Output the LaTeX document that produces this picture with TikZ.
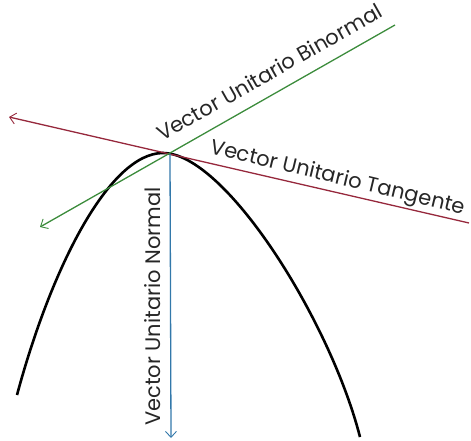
\documentclass[tikz,border=0pt]{standalone}
\usepackage{fontspec}
\setmainfont{Poppins}
\usetikzlibrary{arrows.meta}
\definecolor{tanred}{RGB}{150,40,60}
\definecolor{bingreen}{RGB}{60,140,60}
\definecolor{norblue}{RGB}{50,120,170}
\tikzset{
  vecline/.style={line width=1.3pt,-{Straight Barb[length=6pt,width=11pt,line width=0.9pt]}},
  curveline/.style={line width=2.6pt,black},
  lbl/.style={font=\fontsize{21}{21}\selectfont,inner sep=0pt,text=black!85}
}
\begin{document}
\begin{tikzpicture}[x=1pt,y=-1pt]
\useasboundingbox (0,0) rectangle (471,441);
\coordinate (P) at (170,154);
\coordinate (Rend) at (469,223);
\coordinate (Rtip) at (9,117);
\coordinate (Gend) at (395,25);
\coordinate (Gtip) at (40,227);
\coordinate (Btip) at (171,438);
\coordinate (CL) at (17,395);
\coordinate (CA) at (163,153);
\coordinate (CR) at (360,437);
% curve
\draw[curveline] (CL) .. controls (52,265) and (110,153) .. (CA)
                      .. controls (225,153) and (330,320) .. (CR);
% vectors
\draw[vecline,color=tanred] (Rend) -- (Rtip);
\draw[vecline,color=bingreen] (Gend) -- (Gtip);
\draw[vecline,color=norblue] (P) -- (Btip);
% labels
\node[lbl,anchor=base west,rotate=29.5] (tb) at (162,142) {Vector Unitario Binormal};
\node[lbl,anchor=base west,rotate=-13.5] (tt) at (209,153) {Vector Unitario Tangente};
\node[lbl,anchor=base west,rotate=90] (tn) at (160,426) {Vector Unitario Normal};
\end{tikzpicture}
\end{document}
